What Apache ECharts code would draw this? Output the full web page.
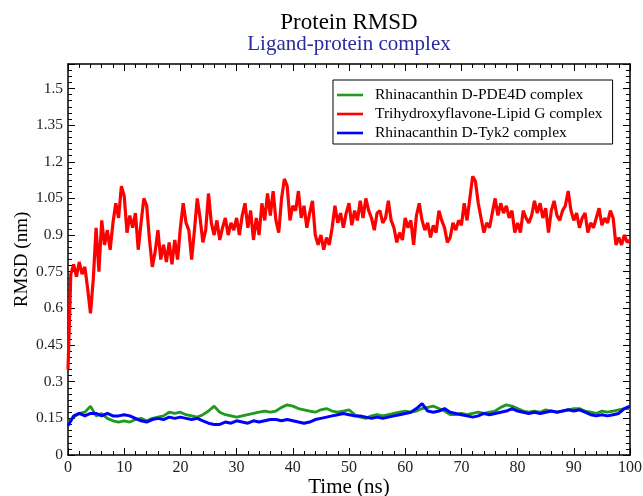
<!DOCTYPE html>
<html>
<head>
<meta charset="utf-8">
<script src="https://cdn.jsdelivr.net/npm/echarts@6/dist/echarts.min.js"></script>
<style>html,body{margin:0;padding:0;background:#fff}#c{width:643px;height:496px}</style>
</head>
<body>
<div id="c"></div>
<script>
const seriesNames = ['Rhinacanthin D-PDE4D complex', 'Trihydroxyflavone-Lipid G complex', 'Rhinacanthin D-Tyk2 complex'];
const xTicks = [0, 10, 20, 30, 40, 50, 60, 70, 80, 90, 100];
const yTicks = [0, 0.15, 0.3, 0.45, 0.6, 0.75, 0.9, 1.05, 1.2, 1.35, 1.5];

// Trihydroxyflavone-Lipid G, sampled every 0.5 ns (0..100)
const redStep = 0.5;
const redValues = [
0.35,0.74,0.78,0.73,0.79,0.74,0.77,0.68,0.58,0.72,
0.93,0.75,0.96,0.86,0.92,0.84,0.95,1.03,0.97,1.10,
1.06,0.91,0.98,0.93,0.99,0.84,0.95,1.05,1.02,0.88,
0.77,0.83,0.92,0.80,0.86,0.79,0.87,0.78,0.88,0.80,
0.93,1.03,0.95,0.92,0.80,0.92,1.05,0.97,0.87,0.92,
1.07,0.95,0.90,0.96,0.88,0.93,0.97,0.90,0.95,0.92,
0.97,0.90,0.98,1.03,0.93,1.00,0.88,0.97,0.90,1.03,
0.96,1.07,0.98,1.08,0.96,0.91,1.05,1.13,1.10,0.96,
1.02,1.00,1.08,0.97,1.02,0.93,0.99,1.04,0.90,0.86,
0.90,0.84,0.89,0.86,0.93,1.02,0.95,0.99,0.93,0.99,
1.03,0.94,1.00,0.96,1.04,0.97,1.05,1.00,0.97,0.92,
0.99,1.00,0.95,0.97,1.04,0.96,0.93,0.87,0.91,0.88,
0.97,0.93,0.96,0.86,0.98,1.03,0.96,0.92,0.95,0.89,
0.94,0.91,1.00,0.96,0.93,0.87,0.89,0.95,0.92,0.96,
0.94,1.03,0.96,1.05,1.14,1.12,1.03,0.97,0.91,0.95,
0.93,0.99,1.05,0.98,1.03,0.99,1.02,0.97,1.00,0.91,
0.95,0.91,1.00,0.97,0.95,0.98,1.04,0.99,1.03,0.97,
1.01,0.91,1.00,1.04,0.98,0.96,1.00,1.02,1.08,1.00,
0.96,0.99,0.93,0.97,0.99,0.91,0.95,0.93,0.97,1.01,
0.94,0.97,0.95,1.00,0.97,0.86,0.89,0.86,0.90,0.87,
0.88
];

// Rhinacanthin D-PDE4D and D-Tyk2, sampled every 1 ns (0..100)
const lowStep = 1;
const greenValues = [
0.135,0.155,0.17,0.175,0.2,0.16,0.17,0.15,0.14,0.135,
0.14,0.135,0.145,0.15,0.14,0.15,0.155,0.16,0.175,0.17,
0.175,0.165,0.16,0.155,0.165,0.18,0.2,0.175,0.165,0.16,
0.155,0.16,0.165,0.17,0.175,0.18,0.175,0.18,0.195,0.205,
0.2,0.19,0.185,0.18,0.175,0.185,0.19,0.18,0.175,0.18,
0.185,0.165,0.155,0.15,0.16,0.165,0.16,0.165,0.17,0.175,
0.18,0.175,0.18,0.19,0.195,0.2,0.19,0.18,0.165,0.165,
0.17,0.165,0.17,0.175,0.17,0.175,0.18,0.195,0.205,0.2,
0.19,0.18,0.175,0.18,0.175,0.185,0.18,0.175,0.18,0.185,
0.19,0.19,0.18,0.175,0.17,0.18,0.175,0.18,0.185,0.19,
0.19
];
const blueValues = [
0.12,0.16,0.17,0.16,0.17,0.17,0.16,0.17,0.16,0.16,
0.165,0.16,0.15,0.14,0.135,0.145,0.15,0.145,0.155,0.15,
0.155,0.15,0.145,0.15,0.14,0.13,0.125,0.125,0.135,0.13,
0.14,0.135,0.13,0.14,0.135,0.14,0.145,0.145,0.14,0.145,
0.14,0.135,0.13,0.135,0.145,0.15,0.155,0.16,0.165,0.17,
0.165,0.16,0.16,0.155,0.15,0.155,0.15,0.155,0.16,0.165,
0.17,0.175,0.19,0.21,0.18,0.175,0.18,0.19,0.175,0.17,
0.165,0.16,0.155,0.16,0.17,0.165,0.17,0.175,0.18,0.19,
0.18,0.175,0.17,0.175,0.17,0.175,0.18,0.175,0.18,0.185,
0.18,0.185,0.175,0.165,0.16,0.165,0.16,0.165,0.17,0.19,
0.20
];

const FONT = '"Liberation Serif", "Times New Roman", serif';
const toPairs = (vals, step) => vals.map((v, i) => [+(i * step).toFixed(2), v]);
const LEGEND_ICON = 'path://M0,0 L26,0 L26,2.6 L0,2.6 Z';

const axisCommon = {
  type: 'value',
  axisLine: { show: true, onZero: false, lineStyle: { color: '#000', width: 1.5 } },
  axisTick: { show: true, inside: true, length: 7, lineStyle: { color: '#000', width: 1 } },
  minorTick: { show: true, length: 4, lineStyle: { color: '#000', width: 1 } },
  splitLine: { show: false },
  minorSplitLine: { show: false }
};

const chart = echarts.init(document.getElementById('c'), null, { renderer: 'canvas' });
chart.setOption({
  animation: false,
  backgroundColor: '#fff',
  title: {
    text: 'Protein RMSD',
    subtext: 'Ligand-protein complex',
    left: 349, top: 11, textAlign: 'center', itemGap: 0, padding: 0,
    textStyle: { fontFamily: FONT, fontSize: 23, fontWeight: 'normal', color: '#000' },
    subtextStyle: { fontFamily: FONT, fontSize: 21, color: '#2a2aa0' }
  },
  legend: {
    orient: 'vertical', left: 333, top: 80,
    data: seriesNames.map(n => ({ name: n, icon: LEGEND_ICON })),
    itemWidth: 26, itemHeight: 14, itemGap: 3,
    padding: [7, 10, 3, 4],
    borderColor: '#000', borderWidth: 1,
    textStyle: { fontFamily: FONT, fontSize: 15.5, color: '#000', padding: [0, 0, 0, 7] }
  },
  grid: { left: 68, right: 13, top: 64, bottom: 41, containLabel: false, outerBoundsMode: 'none' },
  xAxis: [
    Object.assign({}, axisCommon, {
      position: 'bottom', min: 0, max: 100, interval: 10,
      minorTick: Object.assign({}, axisCommon.minorTick, { splitNumber: 5 }),
      name: 'Time (ns)', nameLocation: 'middle', nameGap: 22, nameMoveOverlap: false,
      nameTextStyle: { fontFamily: FONT, fontSize: 21, color: '#000' },
      axisLabel: { fontFamily: FONT, fontSize: 16, color: '#222', margin: 5,
        customValues: xTicks }
    }),
    Object.assign({}, axisCommon, {
      position: 'top', min: 0, max: 100, interval: 10,
      minorTick: Object.assign({}, axisCommon.minorTick, { splitNumber: 5 }),
      axisLabel: { show: false }
    })
  ],
  yAxis: [
    Object.assign({}, axisCommon, {
      position: 'left', min: 0, max: 1.6, interval: 0.15,
      minorTick: Object.assign({}, axisCommon.minorTick, { splitNumber: 6 }),
      name: 'RMSD (nm)', nameLocation: 'middle', nameGap: 36, nameMoveOverlap: false,
      nameTextStyle: { fontFamily: FONT, fontSize: 19, color: '#000' },
      axisLabel: { fontFamily: FONT, fontSize: 15.5, color: '#222', margin: 5,
        showMaxLabel: false,
        formatter: v => (yTicks.some(t => Math.abs(t - v) < 1e-6) ? String(+v.toFixed(2)) : '') }
    }),
    Object.assign({}, axisCommon, {
      position: 'right', min: 0, max: 1.6, interval: 0.15,
      minorTick: Object.assign({}, axisCommon.minorTick, { splitNumber: 6 }),
      axisLabel: { show: false }
    })
  ],
  series: [
    { name: seriesNames[0], type: 'line', data: toPairs(greenValues, lowStep), showSymbol: false, symbol: 'none',
      color: '#1f9a1f', lineStyle: { width: 2.8, color: '#1f9a1f' }, z: 2 },
    { name: seriesNames[1], type: 'line', data: toPairs(redValues, redStep), showSymbol: false, symbol: 'none',
      color: '#ff0000', lineStyle: { width: 3.2, color: '#ff0000' }, z: 3 },
    { name: seriesNames[2], type: 'line', data: toPairs(blueValues, lowStep), showSymbol: false, symbol: 'none',
      color: '#0000ff', lineStyle: { width: 3, color: '#0000ff' }, z: 4 }
  ]
});
</script>
</body>
</html>
